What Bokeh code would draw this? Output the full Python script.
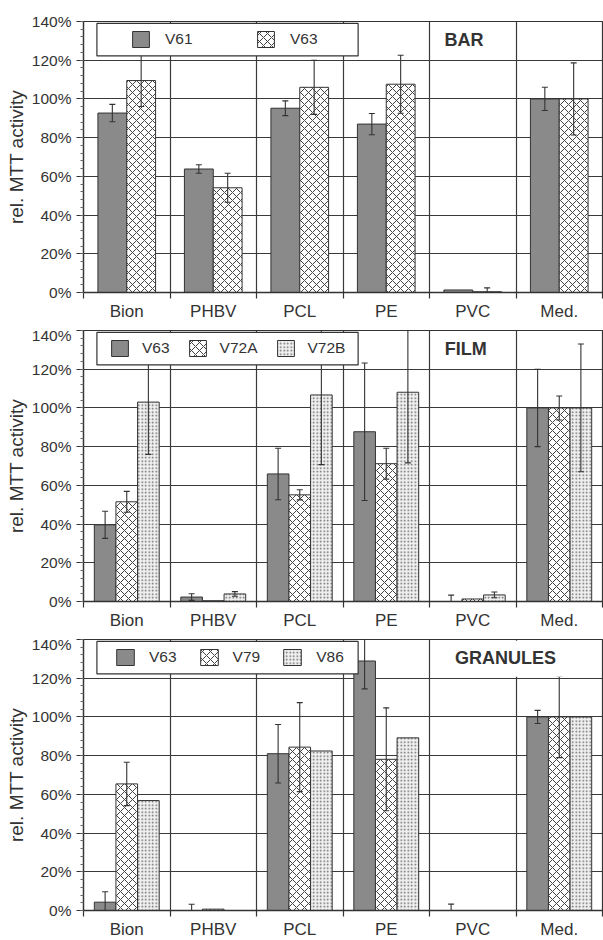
import numpy as np
from bokeh.plotting import figure
from bokeh.models import (Range1d, FixedTicker, PrintfTickFormatter, ColumnDataSource,
                          Legend, LegendItem, BoxAnnotation, Label)
from bokeh.layouts import column
from bokeh.transform import dodge
from bokeh.embed import file_html
from bokeh.resources import INLINE

# ---------------- data ----------------
categories = ["Bion", "PHBV", "PCL", "PE", "PVC", "Med."]
y_ticks = [0, 20, 40, 60, 80, 100, 120, 140]
y_label = "rel. MTT activity"

# BAR panel
bar_title = "BAR"
bar_series = ["V61", "V63"]
bar_V61 = [92.7, 63.8, 95.2, 87.0, 1.3, 100.0]
bar_V61_err = [4.5, 2.2, 3.8, 5.5, 0.0, 6.0]
bar_V63 = [109.5, 54.1, 106.0, 107.6, 0.4, 100.0]
bar_V63_err = [13.4, 7.5, 14.0, 15.0, 2.0, 18.6]

# FILM panel
film_title = "FILM"
film_series = ["V63", "V72A", "V72B"]
film_V63 = [39.6, 2.3, 65.9, 87.7, -0.5, 100.0]
film_V63_err = [7.0, 1.7, 13.3, 35.5, 3.8, 20.0]
film_V72A = [51.5, 0.4, 55.1, 71.2, 1.3, 100.0]
film_V72A_err = [5.4, 0.0, 2.6, 8.0, 0.0, 6.2]
film_V72B = [103.0, 3.9, 106.7, 108.1, 3.4, 100.0]
film_V72B_err = [27.0, 1.2, 36.0, 36.5, 1.5, 33.0]

# GRANULES panel
gran_title = "GRANULES"
gran_series = ["V63", "V79", "V86"]
gran_V63 = [4.3, -0.2, 81.0, 128.9, -0.3, 100.0]
gran_V63_err = [5.4, 3.4, 15.1, 14.4, 3.6, 3.4]
gran_V79 = [65.4, 0.7, 84.4, 78.1, -1.8, 100.0]
gran_V79_err = [11.2, 0.0, 23.0, 26.6, 0.0, 21.0]
gran_V86 = [56.8, 0.0, 82.4, 89.2, 0.0, 100.0]
gran_V86_err = [0.0, 0.0, 0.0, 0.0, 0.0, 0.0]

# ---------------- styles ----------------
FONT = "Liberation Sans"
DARK = "#333333"
GRID = "#3a3a3a"
STYLES = {
    "solid": dict(fill_color="#8a8a8a", line_color=DARK, line_width=1),
    "cross": dict(fill_color="white", hatch_pattern="diagonal_cross", hatch_color="#444444",
                  hatch_scale=8, hatch_weight=1, line_color=DARK, line_width=1),
    "dot": dict(fill_color="#f0f0f0", hatch_pattern="dot", hatch_color="#666666",
                hatch_scale=3.5, hatch_weight=1, line_color=DARK, line_width=1),
}


def make_panel(title, title_x, series, vals, errs, kinds, top_b, bot_b,
               leg_loc, leg_glyph_w, leg_standoff, leg_spacing, leg_label_w, cover=False):
    p = figure(frame_width=519, frame_height=271, x_range=Range1d(-0.5, 5.5), y_range=Range1d(0, 140),
               output_backend="svg", toolbar_location=None,
               min_border_left=83, min_border_right=1, min_border_top=top_b, min_border_bottom=bot_b,
               background_fill_color="white", border_fill_color="white")
    p.outline_line_color = DARK
    p.outline_line_width = 1.2

    xs = np.arange(len(categories))
    n = len(series)
    w = 1.0 / 3.0 if n == 2 else 0.25
    renderers = []
    err_specs = []
    for i, (s, v, e, k) in enumerate(zip(series, vals, errs, kinds)):
        off = (i - (n - 1) / 2.0) * w
        src = ColumnDataSource(dict(x=xs, top=v))
        r = p.vbar(x=dodge("x", off), top="top", bottom=0, width=w, source=src, **STYLES[k])
        renderers.append(r)
        v = np.asarray(v, dtype=float)
        e = np.asarray(e, dtype=float)
        m = e > 0
        err_specs.append((off, ColumnDataSource(dict(x=xs[m], lo=(v - e)[m], hi=(v + e)[m]))))
    for off, esrc in err_specs:
        p.segment(x0=dodge("x", off), y0="lo", x1=dodge("x", off), y1="hi", source=esrc,
                  line_color=DARK, line_width=1.1)
        p.dash(x=dodge("x", off), y="hi", size=6, line_color=DARK, line_width=1.1, source=esrc)
        p.dash(x=dodge("x", off), y="lo", size=6, line_color=DARK, line_width=1.1, source=esrc)

    # grids
    p.xgrid[0].ticker = FixedTicker(ticks=[0.5, 1.5, 2.5, 3.5, 4.5])
    p.ygrid[0].ticker = FixedTicker(ticks=y_ticks[1:-1])
    for g in (p.xgrid[0], p.ygrid[0]):
        g.grid_line_color = GRID
        g.grid_line_width = 1.2

    # x axis
    xa = p.xaxis[0]
    xa.axis_label = None
    xa.ticker = FixedTicker(ticks=list(range(len(categories))),
                            minor_ticks=[i - 0.5 for i in range(len(categories) + 1)])
    xa.major_label_overrides = {i: c for i, c in enumerate(categories)}
    xa.major_tick_out = 0
    xa.major_tick_in = 0
    xa.minor_tick_out = 6
    xa.minor_tick_in = 0
    xa.minor_tick_line_color = DARK
    xa.minor_tick_line_width = 1.2
    xa.axis_line_color = DARK
    xa.axis_line_width = 1.3
    xa.major_label_standoff = 3
    xa.major_label_text_font = FONT
    xa.major_label_text_font_size = "17px"
    xa.major_label_text_color = DARK

    # y axis
    ya = p.yaxis[0]
    ya.ticker = FixedTicker(ticks=y_ticks, minor_ticks=list(range(0, 141, 4)))
    ya.formatter = PrintfTickFormatter(format="%d%%")
    ya.major_tick_out = 7
    ya.major_tick_in = 0
    ya.minor_tick_out = 3
    ya.minor_tick_in = 0
    ya.major_tick_line_color = DARK
    ya.minor_tick_line_color = "#666666"
    ya.axis_line_color = DARK
    ya.axis_line_width = 1.3
    ya.major_label_standoff = 5
    ya.major_label_text_font = FONT
    ya.major_label_text_font_size = "15.5px"
    ya.major_label_text_color = DARK
    ya.axis_label = y_label
    ya.axis_label_standoff = 2
    ya.axis_label_text_font = FONT
    ya.axis_label_text_font_size = "19px"
    ya.axis_label_text_font_style = "normal"
    ya.axis_label_text_color = DARK

    # legend box + legend
    box = BoxAnnotation(left=-0.345, right=2.675, bottom=122.2, top=139.0,
                        fill_color="white", fill_alpha=1.0, line_color=DARK, line_width=1.2,
                        line_alpha=1.0)
    p.add_layout(box)
    if cover:
        cov = BoxAnnotation(left=3.53, right=5.47, bottom=120.8, top=139.4,
                            fill_color="white", fill_alpha=1.0, line_alpha=0.0)
        p.add_layout(cov)
    items = [LegendItem(label=s, renderers=[r]) for s, r in zip(series, renderers)]
    leg = Legend(items=items, orientation="horizontal", location=leg_loc,
                 glyph_width=leg_glyph_w, glyph_height=20, label_height=20,
                 label_width=leg_label_w, label_standoff=leg_standoff, spacing=leg_spacing,
                 padding=0, margin=0, border_line_alpha=0.0, background_fill_alpha=0.0,
                 label_text_font=FONT, label_text_font_size="15.5px", label_text_color=DARK)
    p.add_layout(leg)
    p.add_layout(Label(x=title_x, y=130.6, text=title, text_align="center", text_baseline="middle",
                       text_font=FONT, text_font_style="bold", text_font_size="18px",
                       text_color=DARK))
    return p


p1 = make_panel(bar_title, 3.9, bar_series, [bar_V61, bar_V63], [bar_V61_err, bar_V63_err],
                ["solid", "cross"], 21, 34, (47, 243), 21, 14, 0, 90)
p2 = make_panel(film_title, 3.92, film_series, [film_V63, film_V72A, film_V72B],
                [film_V63_err, film_V72A_err, film_V72B_err],
                ["solid", "cross", "dot"], 4, 34, (26, 243), 21, 12, 17, 20)
p3 = make_panel(gran_title, 4.38, gran_series, [gran_V63, gran_V79, gran_V86],
                [gran_V63_err, gran_V79_err, gran_V86_err],
                ["solid", "cross", "dot"], 4, 29, (31, 243), 22, 13, 21, 20, cover=True)

layout = column(p1, p2, p3)
open("out.html", "w").write(file_html(layout, INLINE))
